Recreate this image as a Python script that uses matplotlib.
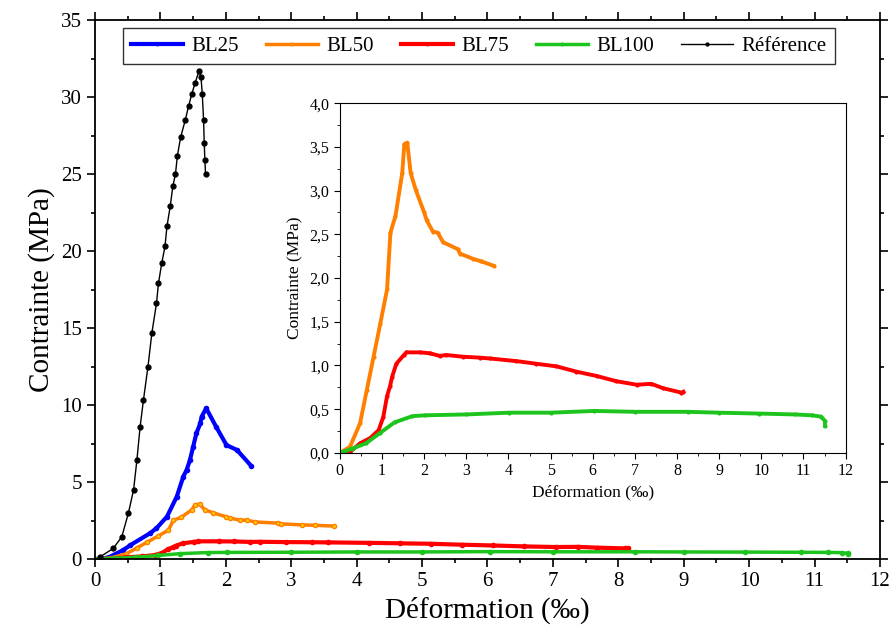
import numpy as np
import matplotlib as mpl
import matplotlib.pyplot as plt
from matplotlib.ticker import MultipleLocator, FuncFormatter

# Référence (béton témoin)
ref_x = [0.08, 0.28, 0.41, 0.51, 0.59, 0.64, 0.69, 0.74, 0.81, 0.87, 0.94, 0.97,
         1.02, 1.07, 1.10, 1.15, 1.19, 1.23, 1.26, 1.31, 1.38, 1.43, 1.48, 1.53,
         1.59, 1.62, 1.64, 1.66, 1.67, 1.68, 1.69]
ref_y = [0.15, 0.69, 1.45, 2.97, 4.5, 6.4, 8.6, 10.3, 12.5, 14.7, 16.6, 17.9,
         19.2, 20.3, 21.6, 22.9, 24.2, 25.0, 26.2, 27.4, 28.5, 29.4, 30.2, 30.9,
         31.7, 31.3, 30.2, 28.5, 27.0, 25.9, 25.0]

bl25_x = [0.10, 0.23, 0.43, 0.54, 0.84, 0.94, 1.10, 1.25, 1.35, 1.40, 1.45, 1.50,
          1.55, 1.61, 1.63, 1.70, 1.85, 2.01, 2.17, 2.39]
bl25_y = [0.0, 0.15, 0.58, 0.9, 1.67, 2.0, 2.75, 4.05, 5.35, 5.78, 6.4, 7.29,
          8.16, 8.81, 9.24, 9.79, 8.6, 7.4, 7.08, 6.04]

bl50_x = [0.0, 0.24, 0.48, 0.64, 0.80, 0.96, 1.12, 1.20, 1.32, 1.48, 1.53, 1.60,
          1.68, 1.80, 2.0, 2.06, 2.21, 2.32, 2.45, 2.80, 2.85, 3.16, 3.36, 3.65]
bl50_y = [0.0, 0.07, 0.34, 0.72, 1.10, 1.48, 1.87, 2.52, 2.71, 3.20, 3.53, 3.55,
          3.20, 3.01, 2.75, 2.66, 2.53, 2.52, 2.41, 2.33, 2.28, 2.22, 2.19, 2.14]

bl75_x = [0.0, 0.24, 0.48, 0.72, 0.92, 1.03, 1.12, 1.19, 1.24, 1.34, 1.52, 1.58,
          1.90, 2.13, 2.37, 2.53, 2.92, 3.32, 3.56, 4.19, 4.66, 5.14, 5.61, 6.09,
          6.56, 7.04, 7.39, 7.67, 8.10, 8.15]
bl75_y = [0.0, 0.01, 0.11, 0.17, 0.26, 0.41, 0.65, 0.76, 0.87, 1.02, 1.12, 1.15,
          1.15, 1.14, 1.11, 1.12, 1.10, 1.09, 1.08, 1.05, 1.02, 0.99, 0.93, 0.88,
          0.82, 0.78, 0.79, 0.74, 0.69, 0.70]

bl100_x = [0.0, 0.30, 0.62, 0.96, 1.30, 1.72, 2.02, 3.0, 4.01, 5.0, 6.04, 7.0,
           8.25, 9.0, 9.94, 10.79, 11.2, 11.42, 11.51, 11.51]
bl100_y = [0.0, 0.05, 0.11, 0.23, 0.35, 0.42, 0.43, 0.44, 0.46, 0.46, 0.48, 0.47,
           0.47, 0.46, 0.45, 0.44, 0.43, 0.415, 0.365, 0.31]

plt.rcParams['font.family'] = ['Liberation Serif', 'DejaVu Serif']

fig = plt.figure(figsize=(8.92, 6.37), dpi=100)
ax = fig.add_axes([0.1065, 0.1224, 0.88, 0.8462])

ax.plot(bl25_x, bl25_y, color='#0000ff', lw=3, marker='o', ms=3, label='BL25')
ax.plot(bl50_x, bl50_y, color='#ff8000', lw=2.5, marker='o', ms=3,
        mfc='#ffd000', label='BL50')
ax.plot(bl75_x, bl75_y, color='#ff0000', lw=3, marker='o', ms=3, label='BL75')
ax.plot(bl100_x, bl100_y, color='#1ec41e', lw=2.5, marker='o', ms=3, label='BL100')
ax.plot(ref_x, ref_y, color='black', lw=1, marker='o', ms=3.5, label='Référence')

ax.set_xlim(0, 12)
ax.set_ylim(0, 35)
ax.xaxis.set_major_locator(MultipleLocator(1))
ax.xaxis.set_minor_locator(MultipleLocator(0.5))
ax.yaxis.set_major_locator(MultipleLocator(5))
ax.yaxis.set_minor_locator(MultipleLocator(2.5))
ax.tick_params(which='both', direction='out', top=True, right=True, labelsize=15, width=1.2)
ax.tick_params(which='major', length=6)
ax.tick_params(which='minor', length=3)
for s in ax.spines.values():
    s.set_linewidth(1.3)
ax.set_xlabel('Déformation (‰)', fontsize=21)
ax.set_ylabel('Contrainte (MPa)', fontsize=21)

leg = ax.legend(loc='upper center', bbox_to_anchor=(0.489, 0.985), ncol=5, fontsize=15,
                frameon=True, fancybox=False, edgecolor='black', handlelength=2.5,
                columnspacing=1.3, handletextpad=0.4, borderpad=0.4, borderaxespad=0,
                markerscale=0.6)
leg.get_frame().set_linewidth(1.0)

# Encart : BL50, BL75, BL100
ins = fig.add_axes([0.381, 0.289, 0.567, 0.549])
ins.plot(bl50_x, bl50_y, color='#ff8000', lw=2.8, marker='o', ms=2, mfc='#ff8000')
ins.plot(bl75_x, bl75_y, color='#ff0000', lw=2.8, marker='o', ms=2)
ins.plot(bl100_x, bl100_y, color='#1ec41e', lw=2.8, marker='o', ms=2)
ins.set_xlim(0, 12)
ins.set_ylim(0, 4)
ins.xaxis.set_major_locator(MultipleLocator(1))
ins.xaxis.set_minor_locator(MultipleLocator(0.5))
ins.yaxis.set_major_locator(MultipleLocator(0.5))
ins.yaxis.set_minor_locator(MultipleLocator(0.25))
ins.yaxis.set_major_formatter(FuncFormatter(lambda v, p: f'{v:.1f}'.replace('.', ',')))
ins.tick_params(which='both', direction='out', labelsize=11.5)
ins.tick_params(which='major', length=4)
ins.tick_params(which='minor', length=2)
ins.set_xlabel('Déformation (‰)', fontsize=12.5)
ins.set_ylabel('Contrainte (MPa)', fontsize=12.5)

fig.savefig('out.png', dpi=100)
